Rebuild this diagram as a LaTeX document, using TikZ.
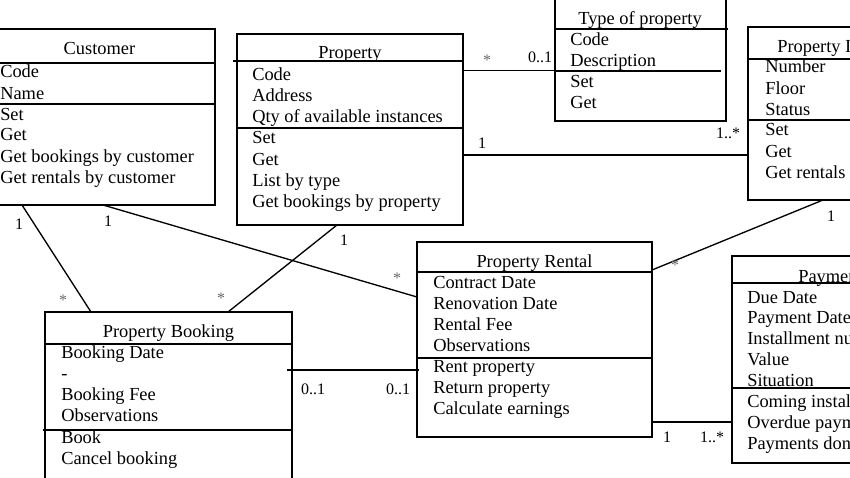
\documentclass[tikz,border=0pt]{standalone}
\usepackage{fontspec}
\setmainfont{Liberation Serif}
\usetikzlibrary{calc}
\tikzset{
  cls/.style={draw, line width=1pt, inner sep=0pt, outer sep=0pt, anchor=north west},
  sep/.style={line width=1pt},
  conn/.style={line width=1pt},
  txt/.style={inner sep=0pt, anchor=base west, font=\fontsize{13.8}{16}\selectfont},
  ttl/.style={inner sep=0pt, anchor=base, font=\fontsize{13.8}{16}\selectfont},
  mult/.style={inner sep=0pt, anchor=base, font=\fontsize{12}{14}\selectfont},
  star/.style={mult, text=black!60},
}
\begin{document}
\begin{tikzpicture}[x=0.75pt,y=-0.75pt]
\useasboundingbox (0,0) rectangle (850,478);
\clip (0,0) rectangle (850,478);
\fill[white] (0,0) rectangle (850,478);

% ---------- class boxes ----------
\node[cls, minimum width=173.25pt, minimum height=132pt] (cust) at (-16,29) {};
\node[cls, minimum width=169.5pt, minimum height=143.25pt] (prop) at (237,34) {};
\node[cls, minimum width=128.25pt, minimum height=92.25pt] (tp) at (555,-2) {};
\node[cls, minimum width=140pt, minimum height=129.75pt] (inst) at (748,27) {};
\node[cls, minimum width=176.25pt, minimum height=146.25pt] (rent) at (417,242) {};
\node[cls, minimum width=140pt, minimum height=155.25pt] (pay) at (732,256) {};
\node[cls, minimum width=185.25pt, minimum height=135pt] (book) at (45,312) {};

% ---------- compartment separators ----------
\draw[sep] ($(cust.north west)+(0,34)$) -- ($(cust.north east)+(0,34)$);
\draw[sep] ($(cust.north west)+(0,75)$) -- ($(cust.north east)+(0,75)$);
\draw[sep] ($(prop.north west)+(-4,27)$) -- ($(prop.north east)+(0,27)$);
\draw[sep] ($(prop.north west)+(0,94)$) -- ($(prop.north east)+(0,94)$);
\draw[sep] ($(tp.north west)+(0,31)$) -- ($(tp.north east)+(2,31)$);
\draw[sep] ($(tp.north west)+(0,73)$) -- ($(tp.north east)+(-5,73)$);
\draw[sep] ($(inst.north west)+(0,32)$) -- ($(inst.north east)+(0,32)$);
\draw[sep] ($(inst.north west)+(0,93)$) -- ($(inst.north east)+(0,93)$);
\draw[sep] ($(rent.north west)+(0,30)$) -- ($(rent.north east)+(0,30)$);
\draw[sep] ($(rent.north west)+(0,116)$) -- ($(rent.north east)+(0,116)$);
\draw[sep] ($(pay.north west)+(0,27)$) -- ($(pay.north east)+(0,27)$);
\draw[sep] ($(pay.north west)+(0,132)$) -- ($(pay.north east)+(0,132)$);
\draw[sep] ($(book.north west)+(0,32)$) -- ($(book.north east)+(0,32)$);
\draw[sep] ($(book.north west)+(-2,118)$) -- ($(book.north east)+(0,118)$);

% ---------- titles ----------
\node[ttl] (cust-t) at (99.5,55) {Customer};
\node[ttl] (prop-t) at (350,59) {Property};
\node[ttl] (tp-t) at (640,25) {Type of property};
\node[ttl, anchor=base west] (inst-t) at (777,53) {Property Instance};
\node[ttl] (rent-t) at (534.5,267) {Property Rental};
\node[ttl, anchor=base west] (pay-t) at (798,282) {Payment};
\node[ttl] (book-t) at (168.5,337) {Property Booking};

% ---------- members ----------
\foreach \t [count=\i from 0] in {Code,Name,Set,Get,Get bookings by customer,Get rentals by customer}
  \node[txt] (cust-\i) at (0,{78+21*\i}) {\t};
\foreach \t [count=\i from 0] in {Code,Address,Qty of available instances,Set,Get,List by type,Get bookings by property}
  \node[txt] (prop-\i) at (252,{80+21.3*\i}) {\t};
\foreach \t [count=\i from 0] in {Code,Description,Set,Get}
  \node[txt] (tp-\i) at (570,{45.5+21*\i}) {\t};
\foreach \t [count=\i from 0] in {Number,Floor,Status,Set,Get,Get rentals by instance}
  \node[txt] (inst-\i) at (765,{73+21*\i}) {\t};
\foreach \t [count=\i from 0] in {Contract Date,Renovation Date,Rental Fee,Observations,Rent property,Return property,Calculate earnings}
  \node[txt] (rent-\i) at (433,{288+21*\i}) {\t};
\foreach \t [count=\i from 0] in {Due Date,Payment Date,Installment number,Value,Situation,Coming installments,Overdue payments,Payments done}
  \node[txt] (pay-\i) at (747,{303+20.9*\i}) {\t};
\foreach \t [count=\i from 0] in {Booking Date,-,Booking Fee,Observations,Book,Cancel booking}
  \node[txt] (book-\i) at (61,{358+21.3*\i}) {\t};

% ---------- associations ----------
\draw[conn] ($(prop.north east)+(0,36.7)$) -- ($(tp.north west)+(0,72.7)$);
\draw[conn] ($(prop.north east)+(0,121)$) -- ($(inst.north west)+(0,128)$);
\draw[conn] ($(inst.south west)+(75,0)$) -- ($(rent.north east)+(0,28)$);
\draw[conn] ($(rent.north east)+(0,180)$) -- ($(pay.north west)+(0,166)$);
\draw[conn] ($(book.north east)+(-5,58)$) -- ($(rent.north west)+(2,128)$);
\draw[conn] ($(cust.south west)+(38,0)$) -- ($(book.north west)+(46,0)$);
\draw[conn] ($(cust.south west)+(119,0)$) -- ($(rent.north west)+(0,55)$);
\draw[conn] ($(prop.south west)+(100,0)$) -- ($(book.north west)+(183,0)$);

% ---------- multiplicities ----------
\node[star] (m1) at (487,65) {*};
\node[mult] (m2) at (540,62.5) {0..1};
\node[mult] (m3) at (482,148.5) {1};
\node[mult] (m4) at (728,138.5) {1..*};
\node[mult] (m5) at (831,221.5) {1};
\node[star] (m6) at (675,270) {*};
\node[mult] (m7) at (667,442.5) {1};
\node[mult] (m8) at (712,442.5) {1..*};
\node[mult] (m9) at (313,394.5) {0..1};
\node[mult] (m10) at (398,394.5) {0..1};
\node[mult] (m11) at (19,229.5) {1};
\node[star] (m12) at (63,305) {*};
\node[mult] (m13) at (108,226.5) {1};
\node[star] (m14) at (397,283) {*};
\node[mult] (m15) at (344,245.5) {1};
\node[star] (m16) at (221,303) {*};
\end{tikzpicture}
\end{document}
